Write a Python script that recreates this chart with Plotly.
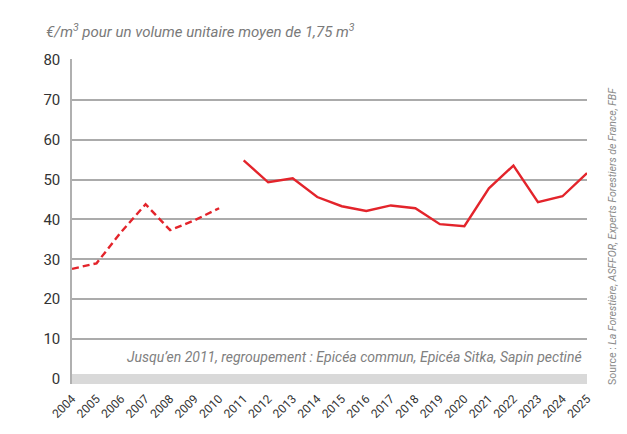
import plotly.graph_objects as go

years_old = [2004, 2005, 2006, 2007, 2008, 2009, 2010]
price_old = [27.6, 29.0, 36.8, 43.8, 37.3, 39.8, 42.8]
years_new = [2011, 2012, 2013, 2014, 2015, 2016, 2017, 2018, 2019, 2020, 2021, 2022, 2023, 2024, 2025]
price_new = [54.8, 49.3, 50.3, 45.6, 43.3, 42.1, 43.5, 42.8, 38.8, 38.3, 47.8, 53.5, 44.3, 45.8, 51.6]
x_ticks = list(range(2004, 2026))
y_ticks = [0, 10, 20, 30, 40, 50, 60, 70, 80]

FONT = "Roboto, Lato, sans-serif"
RED = "#e3242b"

fig = go.Figure()
fig.add_trace(go.Scatter(x=years_old, y=price_old, mode="lines",
                         line=dict(color=RED, width=2.4, dash="7px,4px"),
                         hoverinfo="skip"))
fig.add_trace(go.Scatter(x=years_new, y=price_new, mode="lines",
                         line=dict(color=RED, width=2.4),
                         hoverinfo="skip"))

# page body has an 8px default margin, so the figure is placed at (8, 8)
OFF = 8
W, H = 627 - OFF, 434 - OFF
L, R, T, B = 72 - OFF, 40, 59 - OFF, 50
pw, ph = W - L - R, H - T - B

def px2x(px):
    return (px - OFF - L) / pw

def py2y(py):
    return 1 - (py - OFF - T) / ph

shapes = [
    # grey base band at zero
    dict(type="rect", xref="x", yref="y", x0=2004, x1=2025, y0=-1.25, y1=1.25,
         fillcolor="#d9d9d9", line_width=0, layer="above"),
]

annotations = [
    dict(text="<i>€/m<sup>3</sup> pour un volume unitaire moyen de 1,75 m<sup>3</sup></i>",
         xref="paper", yref="paper", x=px2x(44), y=py2y(31), xanchor="left", yanchor="middle",
         showarrow=False, font=dict(family=FONT, size=15, color="#7a7a7a")),
    dict(text="<i>Jusqu’en 2011, regroupement : Epicéa commun, Epicéa Sitka, Sapin pectiné</i>",
         xref="paper", yref="paper", x=px2x(584), y=py2y(357), xanchor="right", yanchor="middle",
         showarrow=False, font=dict(family=FONT, size=14, color="#808080")),
    dict(text="Source : <i>La Forestière, ASFFOR, Experts Forestiers de France, FBF</i>",
         xref="paper", yref="paper", x=px2x(612), y=py2y(236), xanchor="center", yanchor="middle",
         textangle=-90, showarrow=False, font=dict(family=FONT, size=10.5, color="#8a8a8a")),
]

fig.update_layout(
    width=W, height=H,
    margin=dict(l=L, r=R, t=T, b=B),
    paper_bgcolor="white",
    plot_bgcolor="white",
    showlegend=False,
    shapes=shapes,
    annotations=annotations,
    font=dict(family=FONT, color="#333333"),
)
fig.update_xaxes(range=[2004, 2025], tickmode="array", tickvals=x_ticks,
                 ticktext=[str(v) for v in x_ticks], tickangle=-45,
                 showgrid=False, zeroline=False, showline=False,
                 ticks="outside", ticklen=2, tickcolor="rgba(0,0,0,0)",
                 tickfont=dict(family=FONT, size=12, color="#333333"))
fig.update_yaxes(range=[-1.25, 80.2], tickmode="array", tickvals=y_ticks,
                 showgrid=True, gridcolor="#ababab", gridwidth=1.5,
                 zeroline=False, showline=True, linecolor="#b0b0b0", linewidth=1.5,
                 ticks="outside", ticklen=7, tickcolor="rgba(0,0,0,0)",
                 tickfont=dict(family=FONT, size=15, color="#333333"))

fig.write_html("out.html")
